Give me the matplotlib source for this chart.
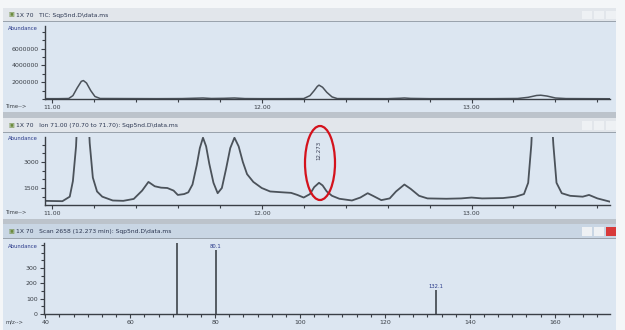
import matplotlib
matplotlib.use("Agg")
import matplotlib.pyplot as plt
from matplotlib.patches import Rectangle, Ellipse
from matplotlib.ticker import FixedLocator, MultipleLocator, AutoMinorLocator

# total ion chromatogram (min, counts)
tic_time = [10.967, 11.03, 11.08, 11.10, 11.12, 11.14, 11.15, 11.165, 11.185, 11.205, 11.23,
            11.50, 11.62, 11.68, 11.72, 11.76, 11.82, 11.87, 11.92, 12.00, 12.10,
            12.20, 12.23, 12.25, 12.265, 12.273, 12.29, 12.31, 12.335, 12.36,
            12.60, 12.66, 12.68, 12.71, 12.80, 13.10, 13.22, 13.27, 13.31, 13.33,
            13.36, 13.40, 13.45, 13.55, 13.657]
tic_abund = [40000, 40000, 60000, 400000, 1300000, 2100000, 2200000, 1900000, 1000000, 300000, 60000,
             40000, 50000, 90000, 120000, 60000, 80000, 120000, 50000, 40000, 40000,
             50000, 400000, 1000000, 1500000, 1650000, 1400000, 800000, 250000, 50000,
             40000, 90000, 120000, 70000, 40000, 40000, 60000, 200000, 420000, 450000,
             350000, 120000, 50000, 40000, 30000]

# extracted ion 71 (min, counts)
eic_time = [10.967, 11.00, 11.05, 11.085, 11.10, 11.115, 11.13, 11.148, 11.165, 11.18, 11.195,
            11.215, 11.24, 11.29, 11.34, 11.39, 11.43, 11.46, 11.49, 11.52, 11.55, 11.58,
            11.60, 11.63, 11.65, 11.67, 11.69, 11.705, 11.72, 11.735, 11.75, 11.77, 11.79,
            11.81, 11.83, 11.85, 11.87, 11.89, 11.91, 11.93, 11.96, 12.00, 12.04, 12.10,
            12.14, 12.17, 12.20, 12.23, 12.25, 12.273, 12.29, 12.31, 12.335, 12.37, 12.43,
            12.47, 12.505, 12.53, 12.57, 12.61, 12.64, 12.68, 12.71, 12.75, 12.79, 12.88,
            12.95, 13.00, 13.05, 13.15, 13.21, 13.25, 13.27, 13.285, 13.30, 13.34, 13.37,
            13.39, 13.405, 13.43, 13.47, 13.53, 13.56, 13.60, 13.657]
eic_abund = [760, 750, 740, 1000, 1900, 3900, 8000, 12000, 8000, 4100, 2100,
             1300, 1000, 780, 760, 870, 1350, 1850, 1600, 1520, 1500, 1350,
             1100, 1150, 1250, 1700, 2800, 3800, 4400, 3900, 2900, 1800, 1200,
             1500, 2600, 3800, 4400, 3900, 3000, 2300, 1850, 1500, 1300, 1250,
             1220, 1100, 950, 1150, 1550, 1800, 1650, 1300, 1050, 880, 780,
             950, 1200, 1050, 800, 900, 1300, 1700, 1450, 1050, 900, 880,
             900, 950, 900, 920, 1000, 1150, 1800, 4000, 8000, 12000, 8000,
             4000, 1800, 1200, 1050, 1000, 1100, 900, 720]
peak_rt = 12.273

# mass spectrum at the marked scan
spec_mz = [71.1, 80.1, 132.1]
spec_abund = [520, 418, 158]

titles = ["TIC: Sqp5nd.D\\data.ms",
          "Ion 71.00 (70.70 to 71.70): Sqp5nd.D\\data.ms",
          "Scan 2658 (12.273 min): Sqp5nd.D\\data.ms"]

W, H = 625, 330
bg = "#dce6f1"
ink = "#3a3f46"

fig = plt.figure(figsize=(W / 100, H / 100), dpi=100, facecolor="#f4f6f8")


def rect(l, t, r, b, color, z=-5):
    fig.add_artist(Rectangle((l / W, 1 - b / H), (r - l) / W, (b - t) / H,
                             transform=fig.transFigure, facecolor=color,
                             edgecolor="none", zorder=z))


def panel_axes(l, t, r, b):
    ax = fig.add_axes([l / W, 1 - b / H, (r - l) / W, (b - t) / H])
    ax.set_facecolor("none")
    for s in ("top", "right"):
        ax.spines[s].set_visible(False)
    for s in ("left", "bottom"):
        ax.spines[s].set_color(ink)
        ax.spines[s].set_linewidth(1.0)
    ax.tick_params(which="both", direction="out", colors=ink, labelsize=4.5,
                   length=3, width=0.8, pad=1.5)
    ax.tick_params(which="minor", length=2)
    return ax


def title_bar(t, b, text, color, close_red=False):
    rect(3, t, 616, b, color)
    rect(3, b - 1, 616, b, "#9aa3ad")
    fig.text(8 / W, 1 - (t + b) / 2 / H, "\u25a3", fontsize=4.5, color="#6a8a3a",
             va="center")
    fig.text(16 / W, 1 - (t + b) / 2 / H, "1X 70   " + text, fontsize=4.3,
             color="#2a3550", va="center")
    for i, x0 in enumerate((582, 594, 606)):
        c = "#d83a3a" if (close_red and i == 2) else "#eef1f4"
        rect(x0, t + 3, x0 + 10, b - 3, c, z=-4)


# window chrome
rect(3, 8, 616, 330, bg)
title_bar(8, 22, titles[0], "#e2e6eb")
rect(3, 112, 616, 118, "#bcc3cb")
title_bar(118, 133, titles[1], "#e2e6eb")
rect(3, 219, 616, 224, "#bcc3cb")
title_bar(224, 239, titles[2], "#c9d6e4", close_red=True)

# panel 1: TIC
ax1 = panel_axes(45, 26, 610, 99)
ax1.plot(tic_time, tic_abund, color="#4b525a", lw=1.1)
ax1.set_xlim(10.967, 13.66)
ax1.set_ylim(0, 8.7e6)
ax1.xaxis.set_major_locator(FixedLocator([11, 12, 13]))
ax1.xaxis.set_minor_locator(MultipleLocator(0.2))
ax1.set_xticklabels(["11.00", "12.00", "13.00"])
ax1.yaxis.set_major_locator(FixedLocator([2e6, 4e6, 6e6]))
ax1.yaxis.set_minor_locator(MultipleLocator(1e6))
ax1.set_yticklabels(["2000000", "4000000", "6000000"])

# panel 2: extracted ion
ax2 = panel_axes(45, 137, 610, 205)
ax2.plot(eic_time, eic_abund, color="#4b525a", lw=1.3)
ax2.set_xlim(10.967, 13.66)
ax2.set_ylim(520, 4440)
ax2.xaxis.set_major_locator(FixedLocator([11, 12, 13]))
ax2.xaxis.set_minor_locator(MultipleLocator(0.2))
ax2.set_xticklabels(["11.00", "12.00", "13.00"])
ax2.yaxis.set_major_locator(FixedLocator([1500, 3000]))
ax2.yaxis.set_minor_locator(MultipleLocator(500))
ax2.set_yticklabels(["1500", "3000"])
ax2.text(peak_rt, 3650, f"{peak_rt:.3f}", rotation=90, ha="center", va="center",
         fontsize=4, color="#3a3f55")
fig.add_artist(Ellipse((320 / W, 1 - 163 / H), 30 / W, 74 / H, transform=fig.transFigure,
                       facecolor="none", edgecolor="#d4121c", lw=1.6, zorder=5))

# panel 3: spectrum
ax3 = panel_axes(44, 243, 610, 314)
ax3.vlines(spec_mz, 0, spec_abund, color="#3e444b", lw=1.2)
ax3.set_xlim(39.7, 173)
ax3.set_ylim(0, 463)
for mz, ab in zip(spec_mz, spec_abund):
    if ab < 463:
        ax3.text(mz, ab + 6, f"{mz:.1f}", ha="center", va="bottom", fontsize=3.8,
                 color="#2a3a8a")
ax3.xaxis.set_major_locator(MultipleLocator(20))
ax3.xaxis.set_minor_locator(AutoMinorLocator(6))
ax3.yaxis.set_major_locator(MultipleLocator(100))
ax3.yaxis.set_minor_locator(MultipleLocator(50))
ax3.set_yticks([0, 100, 200, 300])

# axis captions
for y_top, y_bot, cap in ((28, 106, "Time-->"), (139, 212, "Time-->"), (246, 322, "m/z-->")):
    fig.text(8 / W, 1 - y_top / H, "Abundance", fontsize=3.8, color="#2a3a8a", va="center")
    fig.text(6 / W, 1 - y_bot / H, cap, fontsize=3.8, color=ink, va="center")

fig.savefig("out.png", dpi=100, facecolor=fig.get_facecolor())
